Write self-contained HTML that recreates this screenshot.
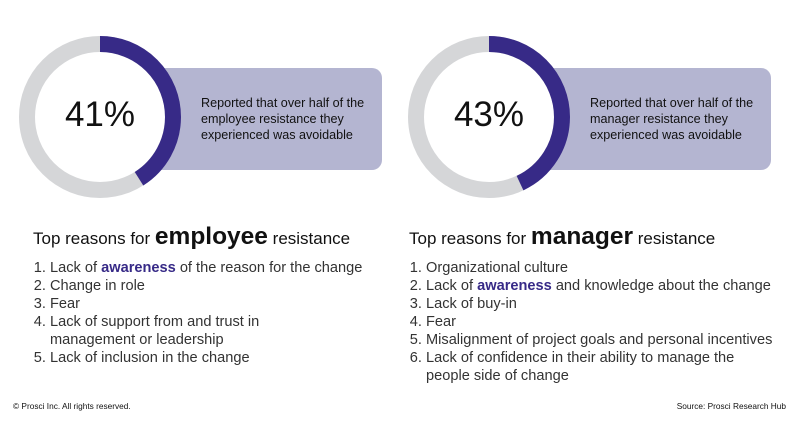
<!DOCTYPE html>
<html><head><style>
body{margin:0;width:800px;height:421px;background:#fff;font-family:"Liberation Sans",sans-serif;color:#222;position:relative;overflow:hidden}
.box{position:absolute;top:68px;height:102px;background:#b4b5d1;border-radius:10px}
.bt{position:absolute;font-size:12.6px;line-height:16px;color:#111}
.pct{position:absolute;font-size:35px;color:#111;width:120px;text-align:center}
h2{position:absolute;margin:0;font-weight:normal;font-size:17px;top:223px;color:#111}
h2 b{font-size:24.5px}
ol{position:absolute;margin:0;padding:0 0 0 17px;top:259px;font-size:14.6px;line-height:18px;color:#333}
.aw{color:#372a87;font-weight:bold}
.f{position:absolute;top:401px;font-size:8.3px;color:#111}
svg{position:absolute;left:0;top:0}
</style></head><body>
<div class="box" style="left:150px;width:232px"></div>
<div class="box" style="left:540px;width:231px"></div>
<svg width="800" height="421">
<circle cx="100" cy="117" r="73" fill="#fff" stroke="#d5d6d8" stroke-width="16"/>
<circle cx="100" cy="117" r="73" fill="none" stroke="#372a87" stroke-width="16" stroke-dasharray="188.1 500" transform="rotate(-90 100 117)"/>
<circle cx="489" cy="117" r="73" fill="#fff" stroke="#d5d6d8" stroke-width="16"/>
<circle cx="489" cy="117" r="73" fill="none" stroke="#372a87" stroke-width="16" stroke-dasharray="197.2 500" transform="rotate(-90 489 117)"/>
</svg>
<div class="pct" style="left:40px;top:95px">41%</div>
<div class="pct" style="left:429px;top:95px">43%</div>
<div class="bt" style="left:201px;top:95px">Reported that over half of the<br>employee resistance they<br>experienced was avoidable</div>
<div class="bt" style="left:590px;top:95px">Reported that over half of the<br>manager resistance they<br>experienced was avoidable</div>
<h2 style="left:33px">Top reasons for <b>employee</b> resistance</h2>
<h2 style="left:409px">Top reasons for <b>manager</b> resistance</h2>
<ol style="left:33px">
<li>Lack of <span class="aw">awareness</span> of the reason for the change</li>
<li>Change in role</li>
<li>Fear</li>
<li>Lack of support from and trust in<br>management or leadership</li>
<li>Lack of inclusion in the change</li>
</ol>
<ol style="left:409px">
<li>Organizational culture</li>
<li>Lack of <span class="aw">awareness</span> and knowledge about the change</li>
<li>Lack of buy-in</li>
<li>Fear</li>
<li>Misalignment of project goals and personal incentives</li>
<li>Lack of confidence in their ability to manage the<br>people side of change</li>
</ol>
<div class="f" style="left:13px">© Prosci Inc. All rights reserved.</div>
<div class="f" style="right:14px">Source: Prosci Research Hub</div>
</body></html>
